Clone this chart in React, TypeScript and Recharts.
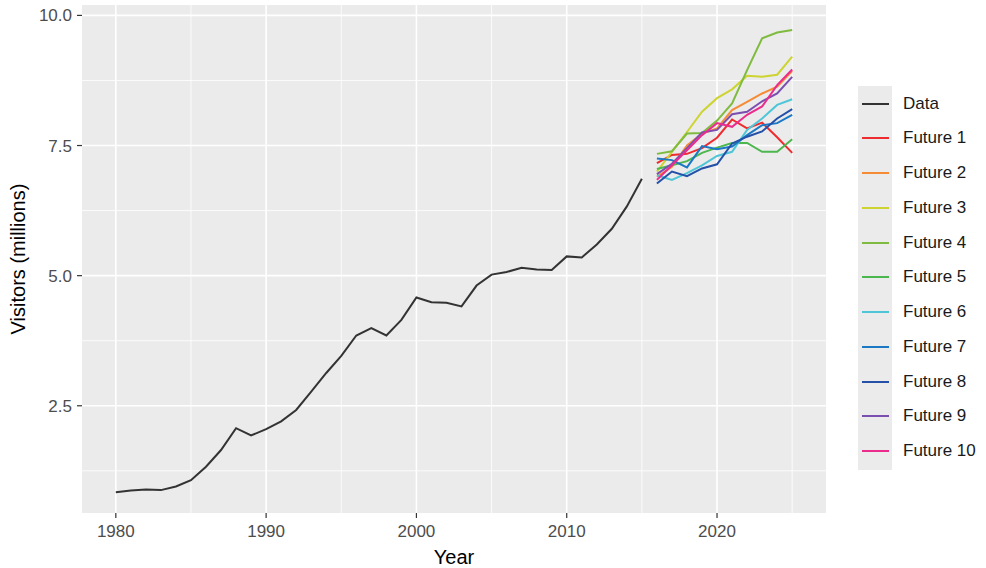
import React from "react";
import { LineChart, Line, XAxis, YAxis, CartesianGrid, Legend, Label } from "recharts";

const years = [1980,1981,1982,1983,1984,1985,1986,1987,1988,1989,1990,1991,1992,1993,1994,1995,1996,1997,1998,1999,2000,2001,2002,2003,2004,2005,2006,2007,2008,2009,2010,2011,2012,2013,2014,2015];
const visitors = [0.84,0.87,0.89,0.88,0.95,1.07,1.33,1.65,2.07,1.93,2.05,2.2,2.42,2.77,3.13,3.46,3.85,3.99,3.85,4.15,4.58,4.49,4.48,4.41,4.81,5.02,5.07,5.15,5.12,5.11,5.37,5.35,5.6,5.9,6.33,6.86];

const futureYears = [2016,2017,2018,2019,2020,2021,2022,2023,2024,2025];
const future1 = [7.16,7.32,7.34,7.45,7.65,8.0,7.83,7.94,7.66,7.36];
const future2 = [6.9,7.09,7.5,7.73,7.83,8.18,8.34,8.5,8.63,8.93];
const future3 = [7.0,7.38,7.76,8.15,8.41,8.58,8.84,8.82,8.86,9.21];
const future4 = [7.34,7.39,7.73,7.74,7.98,8.31,8.95,9.56,9.67,9.72];
const future5 = [7.05,7.12,7.2,7.36,7.46,7.55,7.55,7.38,7.38,7.62];
const future6 = [6.93,6.84,6.97,7.12,7.3,7.38,7.8,8.02,8.28,8.39];
const future7 = [7.25,7.22,7.08,7.49,7.43,7.48,7.7,7.89,7.93,8.09];
const future8 = [6.77,7.0,6.91,7.06,7.14,7.54,7.67,7.77,8.02,8.2];
const future9 = [6.95,7.15,7.45,7.75,7.8,8.1,8.15,8.35,8.5,8.82];
const future10 = [6.84,7.12,7.41,7.7,7.93,7.86,8.09,8.25,8.66,8.96];

const seriesNames = ["Data","Future 1","Future 2","Future 3","Future 4","Future 5","Future 6","Future 7","Future 8","Future 9","Future 10"];
const seriesColors = ["#333333","#ee2b2e","#f68b36","#cdd431","#7fbb3f","#4db74f","#4ec6d8","#1a78c4","#2450a8","#7b4fb0","#ec2c8c"];
const futures = [future1,future2,future3,future4,future5,future6,future7,future8,future9,future10];

const xTicks = [1980,1990,2000,2010,2020];
const xMinor = [1985,1995,2005,2015,2025];
const yTicks = [2.5,5.0,7.5,10.0];
const yMinor = [1.25,3.75,6.25,8.75];

const rows: Record<string, number>[] = [];
years.forEach((y, i) => rows.push({ year: y, Data: visitors[i] }));
futureYears.forEach((y, i) => {
  const r: Record<string, number> = { year: y };
  futures.forEach((f, k) => { r[seriesNames[k + 1]] = f[i]; });
  rows.push(r);
});

const FONT = "'Liberation Sans', Arial, sans-serif";

const LegendBox = () => (
  <div style={{ position: "relative", width: 128, height: 384, fontFamily: FONT }}>
    <div style={{ position: "absolute", left: 0, top: 0, width: 34, height: 384, background: "#ebebeb" }} />
    {seriesNames.map((n, i) => (
      <div key={n} style={{ position: "absolute", left: 0, top: 17.5 + i * 34.75 - 10, height: 20, width: 128 }}>
        <div style={{ position: "absolute", left: 4, top: 9, width: 27, height: 2.2, background: seriesColors[i] }} />
        <div style={{ position: "absolute", left: 45, top: 0, fontSize: 17, lineHeight: "20px", color: "#1a1a1a", whiteSpace: "nowrap" }}>{n}</div>
      </div>
    ))}
  </div>
);

export default function App() {
  return (
    <div style={{ position: "absolute", left: 0, top: 0, width: 986, height: 568, background: "#ffffff" }}>
      <LineChart width={986} height={568} data={rows} margin={{ top: 5, right: 32, bottom: 0, left: 0 }}>
        <CartesianGrid fill="#ebebeb" stroke="#ffffff" strokeWidth={0.8} horizontalValues={yMinor} verticalValues={xMinor} />
        <CartesianGrid stroke="#ffffff" strokeWidth={1.6} horizontalValues={yTicks} verticalValues={xTicks} />
        <XAxis
          dataKey="year"
          type="number"
          domain={[1977.75, 2027.25]}
          ticks={xTicks}
          allowDataOverflow
          height={55}
          axisLine={false}
          tickSize={5}
          tickMargin={7}
          tickLine={{ stroke: "#333333", strokeWidth: 1.2 }}
          tick={{ fill: "#4d4d4d", fontSize: 17, fontFamily: FONT }}
        >
          <Label value="Year" position="insideBottom" offset={4} style={{ fill: "#000", fontSize: 20, fontFamily: FONT }} />
        </XAxis>
        <YAxis
          type="number"
          domain={[0.44, 10.2]}
          ticks={yTicks}
          allowDataOverflow
          width={82}
          axisLine={false}
          tickSize={5}
          tickMargin={5}
          tickFormatter={(v: number) => v.toFixed(1)}
          tickLine={{ stroke: "#333333", strokeWidth: 1.2 }}
          tick={{ fill: "#4d4d4d", fontSize: 17, fontFamily: FONT }}
        >
          <Label value="Visitors (millions)" angle={-90} position="insideLeft" offset={18} style={{ textAnchor: "middle", fill: "#000", fontSize: 20, fontFamily: FONT }} />
        </YAxis>
        <Legend
          layout="vertical"
          align="right"
          verticalAlign="top"
          width={128}
          wrapperStyle={{ left: 858, top: 86, width: 128 }}
          content={() => <LegendBox />}
        />
        {seriesNames.map((n, i) => (
          <Line
            key={n}
            dataKey={n}
            stroke={seriesColors[i]}
            strokeWidth={2}
            dot={false}
            activeDot={false}
            isAnimationActive={false}
            connectNulls={false}
            type="linear"
          />
        ))}
      </LineChart>
    </div>
  );
}
